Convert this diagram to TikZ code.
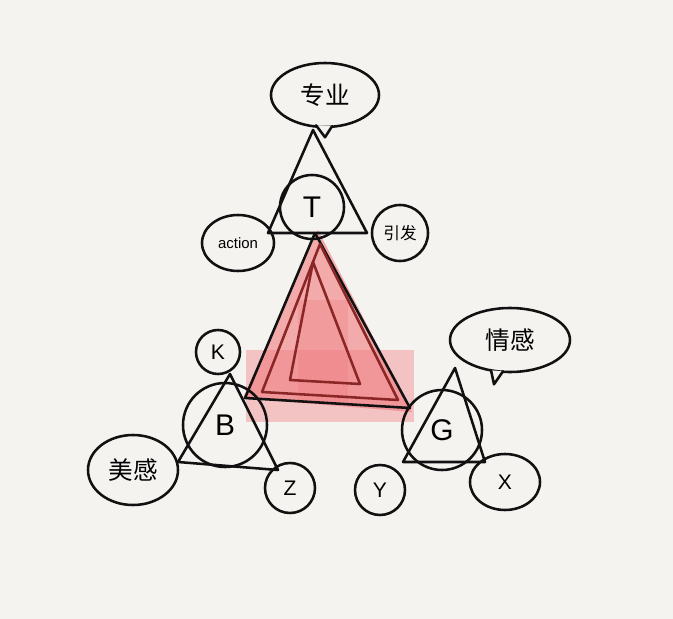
\documentclass[tikz,border=0pt]{standalone}
\usepackage{fontspec}
\setsansfont{Liberation Sans}
\newfontfamily\cjk{Noto Sans CJK SC}
\usetikzlibrary{shapes.geometric,positioning,calc}
\definecolor{paper}{HTML}{F5F3F0}
\definecolor{ink}{HTML}{111111}
\definecolor{wash}{HTML}{F07A7E}
\definecolor{redink}{HTML}{8A2626}
\tikzset{
  pen/.style={draw=ink,line width=2.9pt,line cap=round,line join=round},
  ring/.style={pen,circle,inner sep=0pt,font=\sffamily\fontsize{34}{34}\selectfont},
  blob/.style={pen,ellipse,inner sep=0pt,font=\cjk\fontsize{28}{28}\selectfont},
  small/.style={font=\sffamily\fontsize{24}{24}\selectfont},
}

\begin{document}
\begin{tikzpicture}[x=0.04cm,y=-0.04cm]
\fill[paper] (0,0) rectangle (673,619);
\useasboundingbox (0,0) rectangle (673,619);

% pink wash
\fill[wash,opacity=0.4] (246,350) rectangle (414,422);
\fill[wash,opacity=0.6] (318,230) -- (243,398) -- (412,412) -- cycle;
\fill[wash,opacity=0.3] (298,300) rectangle (348,402);

% red triangles
\draw[pen] (315,233) -- (245,398) -- (410,408) -- cycle;
\draw[pen,draw=redink] (320,244) -- (262,392) -- (398,400) -- cycle;
\draw[pen,draw=redink] (313,262) -- (290,380) -- (360,384) -- cycle;

% T
\node[ring,minimum size=64*0.04cm] (T) at (312,207) {T};
\node[blob,minimum width=108*0.04cm,minimum height=64*0.04cm] (top) at (325,95) {专业};
\node[blob,font=\sffamily\fontsize{17}{17}\selectfont,minimum width=72*0.04cm,minimum height=56*0.04cm] (act) at (238,243) {action};
\node[blob,minimum size=56*0.04cm,font=\cjk\fontsize{19}{19}\selectfont] (yin) at (400,233) {引发};
\coordinate (ta) at (313,130);
\coordinate (tl) at (268,233);
\coordinate (tr) at (367,233);
\draw[pen] (ta) -- (tl) -- (tr) -- cycle;
\filldraw[pen,fill=paper] (top.south) ++(-9,-3) -- ++(9,12) -- ++(7,-11);

% B
\node[ring,minimum size=84*0.04cm] (B) at (225,425) {B};
\node[blob,small,minimum size=44*0.04cm] (K) at (218,352) {K};
\node[blob,minimum width=90*0.04cm,minimum height=70*0.04cm] (mei) at (133,470) {美感};
\node[blob,small,minimum size=50*0.04cm] (Z) at (290,488) {Z};
\coordinate (ba) at (230,374);
\coordinate (bl) at (178,462);
\coordinate (br) at (278,470);
\draw[pen] (ba) -- (bl) -- (br) -- cycle;

% G
\node[ring,minimum size=80*0.04cm] (G) at (442,430) {G};
\node[blob,minimum width=120*0.04cm,minimum height=64*0.04cm] (qing) at (510,340) {情感};
\node[blob,small,minimum size=50*0.04cm] (Y) at (380,490) {Y};
\node[blob,small,minimum width=70*0.04cm,minimum height=56*0.04cm] (X) at (505,482) {X};
\coordinate (ga) at (455,368);
\coordinate (gl) at (403,462);
\coordinate (gr) at (485,462);
\draw[pen] (ga) -- (gl) -- (gr) -- cycle;
\filldraw[pen,fill=paper] (qing.south) ++(-19,-3) -- ++(3,14) -- ++(9,-13);

\end{tikzpicture}
\end{document}
